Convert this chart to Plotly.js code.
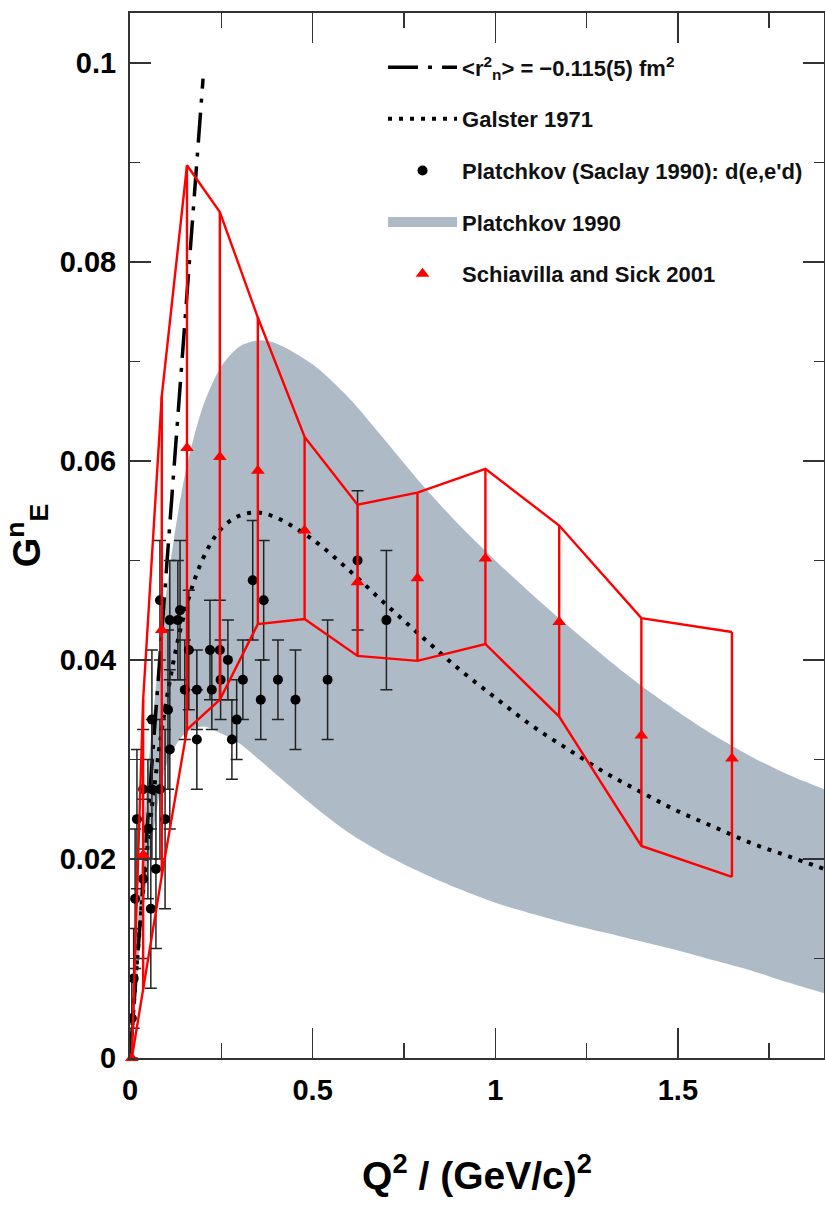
<!DOCTYPE html>
<html>
<head>
<meta charset="utf-8">
<script src="https://cdn.plot.ly/plotly-3.0.1.min.js"></script>
<style>html,body{margin:0;padding:0;background:#fff;}#chart{width:825px;height:1210px;}</style>
</head>
<body>
<div id="chart"></div>
<script>
// ---- Data ----
// <r_n^2> = -0.115(5) fm^2 slope line
var radiusX = [0, 0.2];
var radiusY = [0, 0.0984];

// Galster 1971 curve
var galsterX = [0, 0.025, 0.05, 0.1, 0.15, 0.2, 0.25, 0.3, 0.35, 0.4, 0.5, 0.6, 0.7, 0.8, 0.9, 1.0, 1.1, 1.2, 1.3, 1.4, 1.5, 1.6, 1.7, 1.8, 1.9];
var galsterY = [0, 0.0122, 0.0220, 0.0360, 0.0448, 0.0502, 0.0532, 0.0545, 0.0548, 0.0543, 0.0521, 0.0490, 0.0456, 0.0423, 0.0391, 0.0362, 0.0334, 0.0310, 0.0287, 0.0267, 0.0248, 0.0232, 0.0216, 0.0203, 0.0190];

// Platchkov 1990 band
var bandX = [0, 0.025, 0.05, 0.1, 0.15, 0.2, 0.25, 0.3, 0.35, 0.4, 0.5, 0.6, 0.7, 0.8, 0.9, 1.0, 1.1, 1.2, 1.3, 1.4, 1.5, 1.6, 1.7, 1.8, 1.9];
var bandUpper = [0, 0.0160, 0.0290, 0.0470, 0.0585, 0.0655, 0.0695, 0.0715, 0.0721, 0.0718, 0.0697, 0.0663, 0.0620, 0.0576, 0.0536, 0.0500, 0.0466, 0.0434, 0.0403, 0.0374, 0.0348, 0.0324, 0.0303, 0.0285, 0.0270];
var bandLower = [0, 0.0105, 0.0190, 0.0295, 0.0326, 0.0333, 0.0326, 0.0316, 0.0301, 0.0285, 0.0254, 0.0226, 0.0204, 0.0186, 0.0170, 0.0156, 0.0145, 0.0135, 0.0126, 0.0117, 0.0108, 0.0098, 0.0088, 0.0076, 0.0065];

// Platchkov (Saclay 1990): d(e,e'd)
var platX = [0.005, 0.010, 0.014, 0.019, 0.036, 0.036, 0.049, 0.057, 0.060, 0.060, 0.071, 0.082, 0.082, 0.096, 0.104, 0.109, 0.109, 0.131, 0.137, 0.150, 0.161, 0.183, 0.183, 0.219, 0.224, 0.246, 0.248, 0.268, 0.279, 0.292, 0.309, 0.336, 0.358, 0.366, 0.405, 0.453, 0.541, 0.623, 0.702];
var platY = [0.004, 0.008, 0.016, 0.024, 0.018, 0.027, 0.023, 0.015, 0.027, 0.034, 0.019, 0.027, 0.046, 0.024, 0.035, 0.031, 0.044, 0.044, 0.045, 0.037, 0.041, 0.037, 0.032, 0.041, 0.037, 0.041, 0.038, 0.040, 0.032, 0.034, 0.038, 0.048, 0.036, 0.046, 0.038, 0.036, 0.038, 0.050, 0.044];
var platErr = [0.004, 0.005, 0.007, 0.007, 0.008, 0.006, 0.007, 0.008, 0.007, 0.007, 0.008, 0.007, 0.006, 0.009, 0.008, 0.008, 0.006, 0.006, 0.007, 0.005, 0.006, 0.004, 0.005, 0.005, 0.004, 0.005, 0.004, 0.004, 0.004, 0.004, 0.004, 0.006, 0.004, 0.006, 0.004, 0.005, 0.006, 0.007, 0.007];

// Schiavilla and Sick 2001
var schX = [0.005, 0.036, 0.087, 0.156, 0.246, 0.350, 0.478, 0.623, 0.787, 0.973, 1.175, 1.400, 1.648];
var schY = [0.0, 0.0204, 0.0430, 0.0613, 0.0604, 0.0590, 0.0530, 0.0478, 0.0482, 0.0502, 0.0438, 0.0324, 0.0301];
var schHi = [0.0, 0.0360, 0.0665, 0.0897, 0.0850, 0.0744, 0.0624, 0.0556, 0.0568, 0.0592, 0.0535, 0.0442, 0.0428];
var schLo = [0.0, 0.0069, 0.0183, 0.0330, 0.0360, 0.0436, 0.0441, 0.0404, 0.0399, 0.0416, 0.0343, 0.0213, 0.0182];

var xTicks = [0, 0.5, 1, 1.5];
var xTickText = ['0', '0.5', '1', '1.5'];
var yTicks = [0, 0.02, 0.04, 0.06, 0.08, 0.1];
var yTickText = ['0', '0.02', '0.04', '0.06', '0.08', '0.1'];

// ---- Styles ----
var RED = '#ff0000';
var BAND = '#aebbc7';
var FONT = 'Liberation Sans, Arial, Helvetica, sans-serif';

var schUp = schHi.map(function (v, i) { return v - schY[i]; });
var schDn = schY.map(function (v, i) { return v - schLo[i]; });

var traces = [
  { x: bandX, y: bandLower, mode: 'lines', line: { width: 0, color: BAND, shape: 'spline', smoothing: 0.8 }, showlegend: false, hoverinfo: 'skip' },
  { x: bandX, y: bandUpper, mode: 'lines', line: { width: 0, color: BAND, shape: 'spline', smoothing: 0.8 }, fill: 'tonexty', fillcolor: BAND, showlegend: false, hoverinfo: 'skip' },
  { x: galsterX, y: galsterY, mode: 'lines', line: { color: '#000', width: 4, dash: '4px,7px', shape: 'spline' },
    name: 'Galster 1971', legendgroup: 'g2', legendrank: 2 },
  { x: radiusX, y: radiusY, mode: 'lines', line: { color: '#000', width: 3.5, dash: '30px,10px,4px,10px' },
    name: '&lt;r<sup>2</sup><sub>n</sub>&gt; = \u22120.115(5) fm<sup>2</sup>', legendgroup: 'g1', legendrank: 1 },
  { x: platX, y: platY, mode: 'markers', marker: { color: '#000', size: 10, symbol: 'circle' },
    error_y: { type: 'data', array: platErr, visible: true, color: '#222', thickness: 1.5, width: 6 },
    name: "Platchkov (Saclay 1990): d(e,e'd)", legendgroup: 'g3', legendrank: 3 },
  { x: [null], y: [null], mode: 'lines', line: { color: BAND, width: 14 },
    name: 'Platchkov 1990', legendgroup: 'g4', legendrank: 4 },
  { x: schX, y: schHi, mode: 'lines', line: { color: RED, width: 2.4 }, showlegend: false, hoverinfo: 'skip' },
  { x: schX, y: schLo, mode: 'lines', line: { color: RED, width: 2.4 }, showlegend: false, hoverinfo: 'skip' },
  { x: schX, y: schY, mode: 'markers', marker: { color: RED, size: 12, symbol: 'triangle-up' }, cliponaxis: false,
    error_y: { type: 'data', symmetric: false, array: schUp, arrayminus: schDn, visible: true, color: RED, thickness: 2.4, width: 0 },
    name: 'Schiavilla and Sick 2001', legendgroup: 'g5', legendrank: 5 }
];

var axisCommon = {
  showline: true, linecolor: '#333', linewidth: 2, mirror: 'allticks',
  ticks: 'inside', tickcolor: '#333', tickwidth: 1.5,
  showgrid: false, zeroline: false,
  tickfont: { family: FONT, size: 29, color: '#000', weight: 'bold' }
};

var layout = {
  width: 825, height: 1210,
  margin: { l: 130, r: 1, t: 13, b: 152 },
  paper_bgcolor: '#fff', plot_bgcolor: '#fff',
  font: { family: FONT, color: '#000' },
  showlegend: true,
  legend: {
    x: 0.3646, y: 0.968, xanchor: 'left', yanchor: 'top',
    bgcolor: 'rgba(0,0,0,0)', borderwidth: 0,
    font: { family: FONT, size: 22, color: '#111', weight: 'bold' },
    itemwidth: 69, tracegroupgap: 20, traceorder: 'grouped'
  },
  xaxis: Object.assign({}, axisCommon, {
    range: [0, 1.9], tickvals: xTicks, ticktext: xTickText,
    ticklen: 30, ticklabelstandoff: 5,
    minor: { dtick: 0.25, ticks: 'inside', ticklen: 15, tickcolor: '#333', tickwidth: 1.5 },
    title: { text: 'Q<sup>2</sup> / (GeV/c)<sup>2</sup>', font: { family: FONT, size: 39, color: '#000', weight: 'bold' }, standoff: 57 }
  }),
  yaxis: Object.assign({}, axisCommon, {
    range: [0, 0.105], tickvals: yTicks, ticktext: yTickText,
    ticklen: 21, ticklabelstandoff: 6,
    minor: { dtick: 0.01, ticks: 'inside', ticklen: 10, tickcolor: '#333', tickwidth: 1.5 },
    title: { text: 'G<sup>n</sup><sub>E</sub>', font: { family: FONT, size: 38, color: '#000', weight: 'bold' }, standoff: 16 }
  })
};

Plotly.newPlot('chart', traces, layout, { staticPlot: true, displayModeBar: false });
</script>
</body>
</html>
